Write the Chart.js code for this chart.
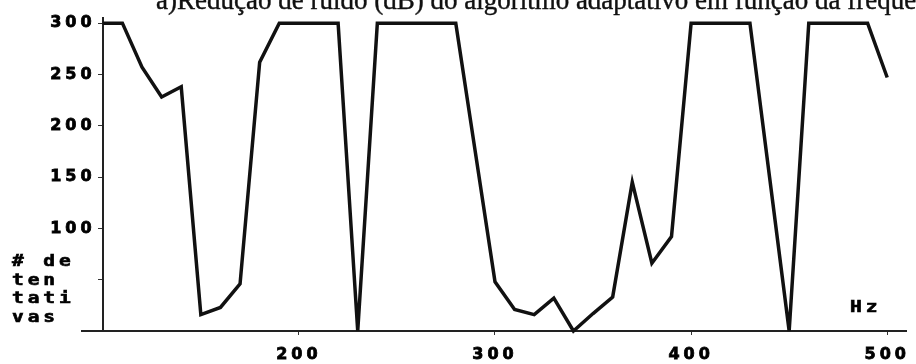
<!DOCTYPE html>
<html>
<head>
<meta charset="utf-8">
<script src="https://cdn.jsdelivr.net/npm/chart.js@4.4.0/dist/chart.umd.min.js"></script>
<style>
  html, body { margin: 0; padding: 0; background: #fff; }
  #wrap { position: relative; width: 916px; height: 364px; overflow: hidden; background: #fff; }
  #chart { position: absolute; left: 0; top: 0; }
  .heading {
    position: absolute; left: 156px; top: -13px;
    font: 27px "Liberation Serif", serif; line-height: 27px;
    white-space: nowrap; color: #111;
    -webkit-text-stroke: 0.4px #111;
  }
  .axisLabel {
    position: absolute;
    font: bold 15px "DejaVu Sans Mono", monospace;
    letter-spacing: 3px;
    transform: scaleX(1.3); transform-origin: left top;
    line-height: 18.7px; white-space: pre; color: #000;
    -webkit-text-stroke: 0.6px #000;
  }
</style>
</head>
<body>
<div id="wrap">
  <canvas id="chart" width="916" height="364"></canvas>
  <div class="heading">a)Redução de ruído (dB) do algoritmo adaptativo em função da frequência</div>
  <div class="axisLabel" style="left:12px; top:252px;"># de
ten
tati
vas</div>
  <div class="axisLabel" style="left:850px; top:298px;">Hz</div>
</div>
<script>
// frequency (Hz) and number of attempts at each frequency
const freqHz = [100, 110, 120, 130, 140, 150, 160, 170, 180, 190,
                200, 210, 220, 230, 240, 250, 260, 270, 280, 290,
                300, 310, 320, 330, 340, 350, 360, 370, 380, 390,
                400, 410, 420, 430, 440, 450, 460, 470, 480, 490, 500];
const tentativas = [300, 300, 257, 228, 238, 16, 23, 46, 262, 300,
                    300, 300, 300, 0, 300, 300, 300, 300, 300, 174,
                    48, 21, 16, 32, 0, 17, 33, 145, 66, 92,
                    300, 300, 300, 300, 150, 0, 300, 300, 300, 300, 247];

const xTickValues = [200, 300, 400, 500];
const yTickValues = [50, 100, 150, 200, 250, 300];
const yTickText = ['', '100', '150', '200', '250', '300'];

const tickFont = { family: 'DejaVu Sans', weight: 'bold', size: 16, lineHeight: 1 };

// canvas text gets the wide spacing of the old plotter font
const spacedText = {
  id: 'spacedText',
  beforeDraw(chart) { chart.ctx.letterSpacing = '4px'; },
  afterDraw(chart) { chart.ctx.letterSpacing = '0px'; }
};

new Chart(document.getElementById('chart'), {
  type: 'line',
  data: {
    datasets: [{
      data: freqHz.map((f, i) => ({ x: f, y: tentativas[i] })),
      borderColor: '#111',
      borderWidth: 3.5,
      pointRadius: 0,
      tension: 0,
      clip: 4
    }]
  },
  options: {
    responsive: false,
    animation: false,
    layout: { padding: { left: 82, right: 4, top: 18, bottom: -11 } },
    plugins: { legend: { display: false }, tooltip: { enabled: false } },
    scales: {
      x: {
        type: 'linear',
        position: 'bottom',
        min: 89.4,
        max: 509.6,
        afterBuildTicks: s => { s.ticks = xTickValues.map(v => ({ value: v })); },
        grid: { display: true, drawOnChartArea: false, tickLength: 4, color: '#333', lineWidth: 1 },
        border: { display: true, color: '#222', width: 2 },
        ticks: {
          color: '#000', font: tickFont, padding: 12, maxRotation: 0,
          textStrokeColor: '#000', textStrokeWidth: 0.8
        }
      },
      y: {
        type: 'linear',
        // axis sits at 100 Hz so the x axis line runs past it on the left
        position: { x: 100 },
        min: 0,
        max: 305,
        afterBuildTicks: s => { s.ticks = yTickValues.map(v => ({ value: v })); },
        grid: { display: true, drawOnChartArea: false, tickLength: 4, color: '#333', lineWidth: 1 },
        border: { display: true, color: '#222', width: 2 },
        ticks: {
          color: '#000', font: tickFont,
          textStrokeColor: '#000', textStrokeWidth: 0.8,
          // labels here ignore ticks.padding, a thin space keeps them off the axis
          callback: v => {
            const t = yTickText[yTickValues.indexOf(v)] ?? '';
            return t ? t + '\u2009' : '';
          }
        }
      }
    }
  },
  plugins: [spacedText]
});
</script>
</body>
</html>
